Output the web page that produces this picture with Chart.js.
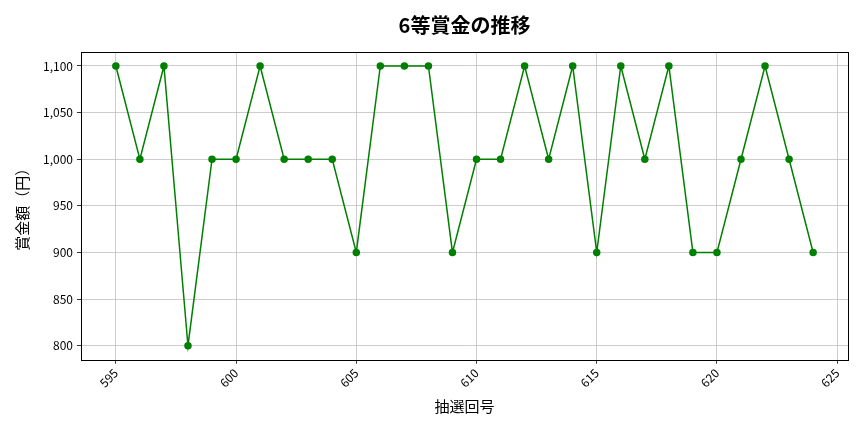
<!DOCTYPE html>
<html>
<head>
<meta charset="utf-8">
<script src="https://cdn.jsdelivr.net/npm/chart.js@4"></script>
<style>
  body { margin: 0; background: #fff; }
  #wrap { width: 864px; height: 432px; }
</style>
</head>
<body>
<div id="wrap"><canvas id="myChart"></canvas></div>
<script>
// draw numbers and 6th-prize amounts
var drawNos = [595, 596, 597, 598, 599, 600, 601, 602, 603, 604,
               605, 606, 607, 608, 609, 610, 611, 612, 613, 614,
               615, 616, 617, 618, 619, 620, 621, 622, 623, 624];
var prizes = [1100, 1000, 1100, 800, 1000, 1000, 1100, 1000, 1000, 1000,
              900, 1100, 1100, 1100, 900, 1000, 1000, 1100, 1000, 1100,
              900, 1100, 1000, 1100, 900, 900, 1000, 1100, 1000, 900];
var xTicks = [595, 600, 605, 610, 615, 620, 625];
var yTicks = [800, 850, 900, 950, 1000, 1050, 1100];
var chartTitle = '6等賞金の推移';

var points = [];
for (var i = 0; i < drawNos.length; i++) {
  points.push({x: drawNos[i], y: prizes[i]});
}

var font = "'Noto Sans CJK JP', 'Noto Sans', sans-serif";

// matplotlib-like box around the plot, title centred over the axes
var boxPlugin = {
  id: 'box',
  afterDraw: function(chart) {
    var a = chart.chartArea;
    var c = chart.ctx;
    c.save();
    c.strokeStyle = '#000';
    c.lineWidth = 1;
    c.strokeRect(Math.round(a.left) + 0.5, Math.round(a.top) + 0.5,
                 Math.round(a.right - a.left), Math.round(a.bottom - a.top));
    c.fillStyle = '#000';
    c.font = 'bold 20px ' + font;
    c.textAlign = 'center';
    c.textBaseline = 'middle';
    c.fillText(chartTitle, (a.left + a.right) / 2, 25);
    c.restore();
  }
};

const ctx = document.getElementById('myChart');
const myChart = new Chart(ctx, {
  type: 'line',
  data: {
    datasets: [{
      data: points,
      borderColor: '#008000',
      backgroundColor: '#008000',
      borderWidth: 1.5,
      pointRadius: 3,
      pointHoverRadius: 3,
      tension: 0
    }]
  },
  options: {
    responsive: true,
    maintainAspectRatio: false,
    animation: false,
    layout: { padding: { left: 9, right: 16, top: 52, bottom: 13 } },
    plugins: {
      legend: { display: false },
      tooltip: { enabled: false },
      title: { display: false }
    },
    scales: {
      x: {
        type: 'linear',
        min: 593.55,
        max: 625.45,
        afterBuildTicks: function(scale) {
          scale.ticks = xTicks.map(function(v) { return {value: v}; });
        },
        ticks: {
          color: '#000',
          font: { family: font, size: 12 },
          minRotation: 45,
          maxRotation: 45,
          padding: 2,
          callback: function(v) { return String(v); }
        },
        grid: { color: '#c0c0c0', tickColor: '#000', tickLength: 4, lineWidth: 0.8 },
        border: { display: false },
        title: {
          display: true,
          text: '抽選回号',
          color: '#000',
          font: { family: font, size: 15 },
          padding: { top: 5 }
        }
      },
      y: {
        min: 785,
        max: 1115,
        afterBuildTicks: function(scale) {
          scale.ticks = yTicks.map(function(v) { return {value: v}; });
        },
        ticks: {
          color: '#000',
          font: { family: font, size: 12 },
          padding: 4,
          callback: function(v) { return v.toLocaleString('en-US'); }
        },
        grid: { color: '#c0c0c0', tickColor: '#000', tickLength: 4, lineWidth: 0.8 },
        border: { display: false },
        title: {
          display: true,
          text: '賞金額（円）',
          color: '#000',
          font: { family: font, size: 15 },
          padding: { bottom: 8 }
        }
      }
    }
  },
  plugins: [boxPlugin]
});
</script>
</body>
</html>
